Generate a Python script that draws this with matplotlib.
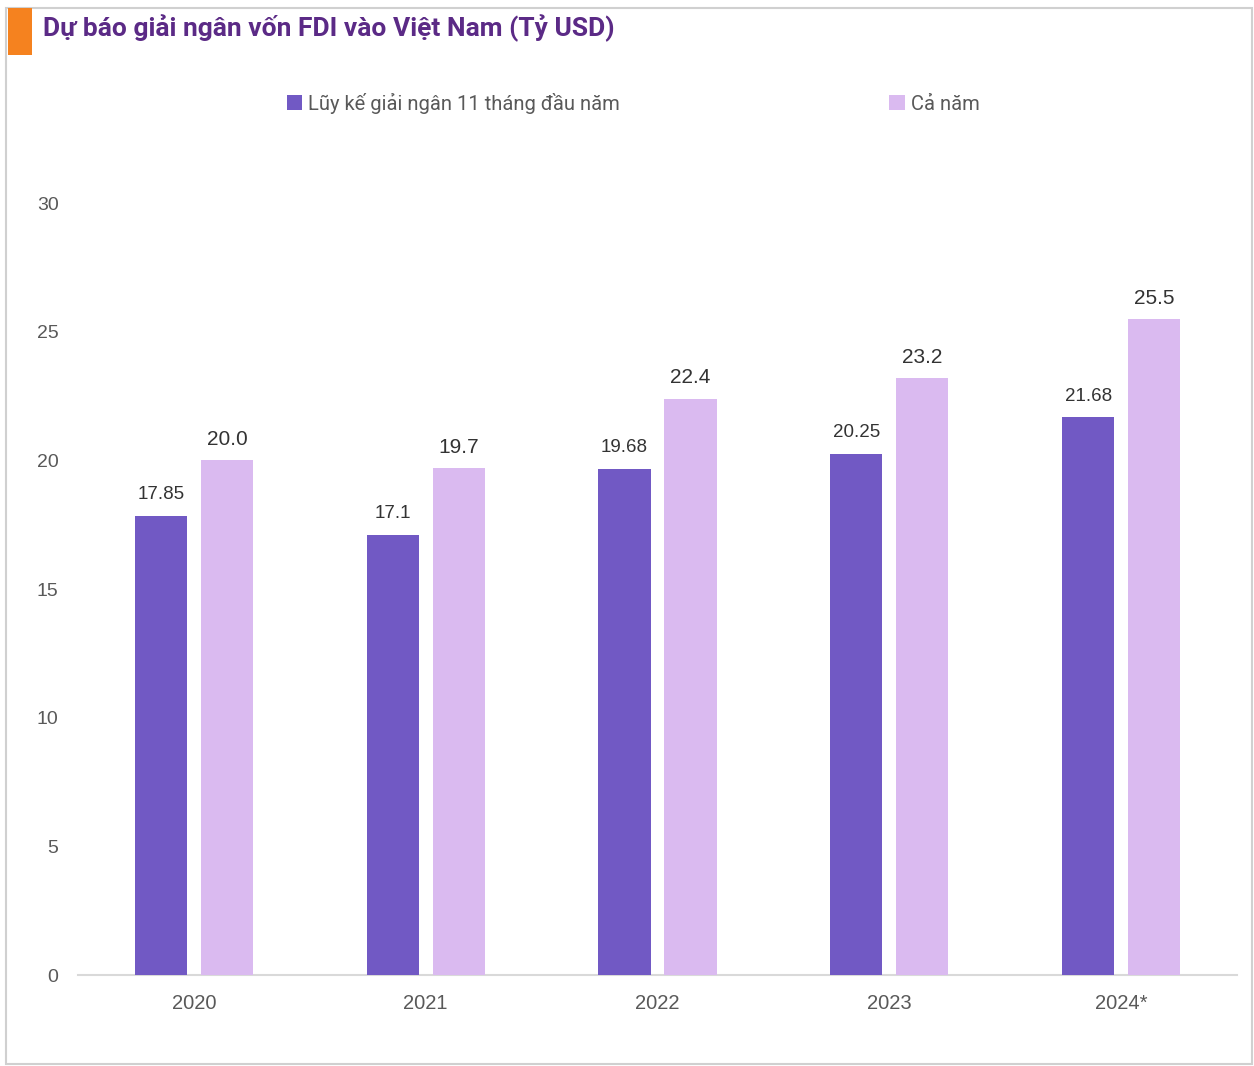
import matplotlib
matplotlib.use("Agg")
import matplotlib.pyplot as plt
import numpy as np
from matplotlib.patches import Rectangle

categories = ["2020", "2021", "2022", "2023", "2024*"]
cumulative_11m = [17.85, 17.1, 19.68, 20.25, 21.68]
full_year = [20.0, 19.7, 22.4, 23.2, 25.5]
cum_labels = ["17.85", "17.1", "19.68", "20.25", "21.68"]
full_labels = ["20.0", "19.7", "22.4", "23.2", "25.5"]
series_names = ["Lũy kế giải ngân 11 tháng đầu năm", "Cả năm"]
title = "Dự báo giải ngân vốn FDI vào Việt Nam (Tỷ USD)"
yticks = [0, 5, 10, 15, 20, 25, 30]

c_dark = "#7159C4"
c_light = "#DABAF0"
c_title = "#5B2A86"
c_orange = "#F5821F"
c_text = "#595959"

plt.rcParams['font.family'] = ['Liberation Sans', 'DejaVu Sans']

fig = plt.figure(figsize=(12.54, 10.66), dpi=100)
W, H = 1254, 1066

# border
fig.patches.append(Rectangle((6 / W, 2 / H), 1246 / W, 1056 / H, transform=fig.transFigure,
                             fill=False, edgecolor="#D0D0D0", linewidth=1.5))
# orange marker
fig.patches.append(Rectangle((8 / W, 1 - 55 / H), 24 / W, 47 / H, transform=fig.transFigure,
                             facecolor=c_orange, edgecolor="none"))
fig.text(43 / W, 1 - 28 / H, title, fontsize=19, fontweight="bold", color=c_title,
         family=["Roboto", "DejaVu Sans"], va="center", ha="left")

ax = fig.add_axes([78 / W, 1 - 975 / H, (1237 - 78) / W, (975 - 203) / H])
x = np.arange(len(categories))
w = 0.225
off = 0.1425
b1 = ax.bar(x - off, cumulative_11m, w, color=c_dark, label=series_names[0], zorder=3)
b2 = ax.bar(x + off, full_year, w, color=c_light, label=series_names[1], zorder=3)

for rect, lab in zip(b1, cum_labels):
    ax.annotate(lab, (rect.get_x() + rect.get_width() / 2, rect.get_height()),
                xytext=(0, 9), textcoords="offset points", ha="center", va="bottom",
                fontsize=13.5, color="#333333")
for rect, lab in zip(b2, full_labels):
    ax.annotate(lab, (rect.get_x() + rect.get_width() / 2, rect.get_height()),
                xytext=(0, 8), textcoords="offset points", ha="center", va="bottom",
                fontsize=15, color="#333333")

ax.set_xlim(-0.5, len(categories) - 0.5)
ax.set_ylim(0, 30)
ax.set_yticks(yticks)
ax.set_yticklabels([str(t) for t in yticks])
ax.set_xticks(x)
ax.set_xticklabels(categories)
ax.tick_params(axis="y", length=0, pad=14, labelsize=14, labelcolor=c_text)
ax.tick_params(axis="x", length=0, pad=14, labelsize=14.5, labelcolor=c_text)
for s in ["top", "right", "left"]:
    ax.spines[s].set_visible(False)
ax.spines["bottom"].set_color("#D9D9D9")
ax.spines["bottom"].set_linewidth(1.5)
ax.set_facecolor("none")

leg = fig.legend(handles=[b1, b2], labels=series_names, ncol=2, loc="center",
                 bbox_to_anchor=(633 / W, 1 - 103 / H), frameon=False,
                 prop={"family": ["Roboto", "DejaVu Sans"], "size": 14.5},
                 handlelength=0.75, handleheight=0.75, handletextpad=0.3,
                 columnspacing=13.4)
for t in leg.get_texts():
    t.set_color(c_text)

fig.savefig("out.png", dpi=100)
